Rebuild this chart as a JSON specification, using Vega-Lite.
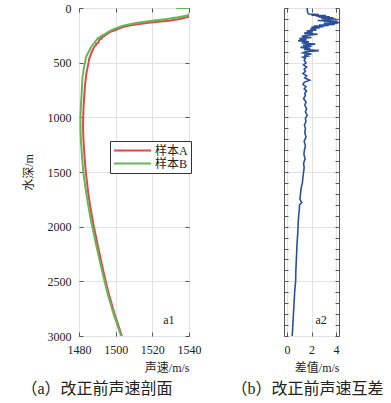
{
  "$schema": "https://vega.github.io/schema/vega-lite/v6.json",
  "padding": {"left": 20, "top": 1, "right": 5, "bottom": 5},
  "background": "white",
  "bounds": "flush",
  "spacing": 95,
  "config": {
    "view": {"stroke": "#555", "strokeWidth": 1},
    "font": "Liberation Serif",
    "axis": {
      "domain": false,
      "tickColor": "#555",
      "tickSize": -4,
      "labelPadding": 12,
      "labelFont": "Liberation Serif",
      "labelFontSize": 12,
      "labelColor": "#222",
      "labelOverlap": false,
      "labelFlush": false,
      "format": "d",
      "gridColor": "#e2e2e2",
      "titleFont": "Liberation Serif, Noto Sans CJK SC",
      "titleFontSize": 12,
      "titleFontWeight": "normal",
      "titleColor": "#222"
    }
  },
  "datasets": {
    "profile": [
      {"sample": "样本A", "depth": 80, "speed": 1540},
      {"sample": "样本A", "depth": 90, "speed": 1537.5},
      {"sample": "样本A", "depth": 100, "speed": 1535},
      {"sample": "样本A", "depth": 116, "speed": 1529},
      {"sample": "样本A", "depth": 131, "speed": 1520},
      {"sample": "样本A", "depth": 140, "speed": 1516},
      {"sample": "样本A", "depth": 150, "speed": 1511},
      {"sample": "样本A", "depth": 160, "speed": 1507.5},
      {"sample": "样本A", "depth": 170, "speed": 1505},
      {"sample": "样本A", "depth": 185, "speed": 1502},
      {"sample": "样本A", "depth": 201, "speed": 1500},
      {"sample": "样本A", "depth": 215, "speed": 1497.5},
      {"sample": "样本A", "depth": 230, "speed": 1496},
      {"sample": "样本A", "depth": 250, "speed": 1494.2},
      {"sample": "样本A", "depth": 268, "speed": 1492.7},
      {"sample": "样本A", "depth": 280, "speed": 1492.3},
      {"sample": "样本A", "depth": 285, "speed": 1491.2},
      {"sample": "样本A", "depth": 300, "speed": 1491},
      {"sample": "样本A", "depth": 320, "speed": 1490.4},
      {"sample": "样本A", "depth": 325, "speed": 1489.5},
      {"sample": "样本A", "depth": 340, "speed": 1489.2},
      {"sample": "样本A", "depth": 350, "speed": 1488.5},
      {"sample": "样本A", "depth": 360, "speed": 1488.2},
      {"sample": "样本A", "depth": 380, "speed": 1487.6},
      {"sample": "样本A", "depth": 400, "speed": 1487},
      {"sample": "样本A", "depth": 430, "speed": 1486.3},
      {"sample": "样本A", "depth": 467, "speed": 1485.5},
      {"sample": "样本A", "depth": 500, "speed": 1485.2},
      {"sample": "样本A", "depth": 550, "speed": 1484.6},
      {"sample": "样本A", "depth": 600, "speed": 1484},
      {"sample": "样本A", "depth": 650, "speed": 1483.7},
      {"sample": "样本A", "depth": 700, "speed": 1483.3},
      {"sample": "样本A", "depth": 800, "speed": 1482.9},
      {"sample": "样本A", "depth": 900, "speed": 1482.5},
      {"sample": "样本A", "depth": 1000, "speed": 1482.3},
      {"sample": "样本A", "depth": 1100, "speed": 1482.2},
      {"sample": "样本A", "depth": 1200, "speed": 1482.4},
      {"sample": "样本A", "depth": 1300, "speed": 1482.8},
      {"sample": "样本A", "depth": 1400, "speed": 1483.2},
      {"sample": "样本A", "depth": 1500, "speed": 1483.7},
      {"sample": "样本A", "depth": 1600, "speed": 1484.4},
      {"sample": "样本A", "depth": 1700, "speed": 1485.1},
      {"sample": "样本A", "depth": 1800, "speed": 1486},
      {"sample": "样本A", "depth": 1900, "speed": 1487},
      {"sample": "样本A", "depth": 2000, "speed": 1488.1},
      {"sample": "样本A", "depth": 2200, "speed": 1490.6},
      {"sample": "样本A", "depth": 2400, "speed": 1493.2},
      {"sample": "样本A", "depth": 2600, "speed": 1496},
      {"sample": "样本A", "depth": 2800, "speed": 1499.4},
      {"sample": "样本A", "depth": 3000, "speed": 1503.4},
      {"sample": "样本B", "depth": 0, "speed": 1533},
      {"sample": "样本B", "depth": 0.5, "speed": 1541},
      {"sample": "样本B", "depth": 64, "speed": 1540},
      {"sample": "样本B", "depth": 75, "speed": 1537},
      {"sample": "样本B", "depth": 85, "speed": 1534},
      {"sample": "样本B", "depth": 100, "speed": 1528},
      {"sample": "样本B", "depth": 116, "speed": 1520},
      {"sample": "样本B", "depth": 125, "speed": 1516},
      {"sample": "样本B", "depth": 135, "speed": 1512},
      {"sample": "样本B", "depth": 150, "speed": 1507},
      {"sample": "样本B", "depth": 165, "speed": 1503.5},
      {"sample": "样本B", "depth": 186, "speed": 1500},
      {"sample": "样本B", "depth": 200, "speed": 1498},
      {"sample": "样本B", "depth": 220, "speed": 1495.8},
      {"sample": "样本B", "depth": 240, "speed": 1494},
      {"sample": "样本B", "depth": 259, "speed": 1491.8},
      {"sample": "样本B", "depth": 270, "speed": 1491.3},
      {"sample": "样本B", "depth": 275, "speed": 1490.2},
      {"sample": "样本B", "depth": 290, "speed": 1489.8},
      {"sample": "样本B", "depth": 300, "speed": 1489},
      {"sample": "样本B", "depth": 315, "speed": 1488.7},
      {"sample": "样本B", "depth": 330, "speed": 1487.8},
      {"sample": "样本B", "depth": 345, "speed": 1487},
      {"sample": "样本B", "depth": 370, "speed": 1486.2},
      {"sample": "样本B", "depth": 400, "speed": 1485.3},
      {"sample": "样本B", "depth": 430, "speed": 1484.3},
      {"sample": "样本B", "depth": 451, "speed": 1483.8},
      {"sample": "样本B", "depth": 480, "speed": 1483.5},
      {"sample": "样本B", "depth": 520, "speed": 1483},
      {"sample": "样本B", "depth": 560, "speed": 1482.5},
      {"sample": "样本B", "depth": 600, "speed": 1482.3},
      {"sample": "样本B", "depth": 630, "speed": 1481.9},
      {"sample": "样本B", "depth": 700, "speed": 1481.7},
      {"sample": "样本B", "depth": 800, "speed": 1481.4},
      {"sample": "样本B", "depth": 900, "speed": 1481.0},
      {"sample": "样本B", "depth": 1000, "speed": 1480.8},
      {"sample": "样本B", "depth": 1100, "speed": 1480.8},
      {"sample": "样本B", "depth": 1200, "speed": 1481.0},
      {"sample": "样本B", "depth": 1300, "speed": 1481.4},
      {"sample": "样本B", "depth": 1400, "speed": 1481.85},
      {"sample": "样本B", "depth": 1500, "speed": 1482.35},
      {"sample": "样本B", "depth": 1600, "speed": 1483.15},
      {"sample": "样本B", "depth": 1700, "speed": 1484.0},
      {"sample": "样本B", "depth": 1800, "speed": 1485.0},
      {"sample": "样本B", "depth": 1900, "speed": 1486.05},
      {"sample": "样本B", "depth": 2000, "speed": 1487.2},
      {"sample": "样本B", "depth": 2200, "speed": 1489.8},
      {"sample": "样本B", "depth": 2400, "speed": 1492.5},
      {"sample": "样本B", "depth": 2600, "speed": 1495.4},
      {"sample": "样本B", "depth": 2800, "speed": 1498.9},
      {"sample": "样本B", "depth": 3000, "speed": 1503.0}
    ],
    "diff": [
      {"depth": 0, "diff": 1.65}, {"depth": 20, "diff": 1.66}, {"depth": 40, "diff": 1.68}, {"depth": 55, "diff": 1.75},
      {"depth": 60, "diff": 2.6}, {"depth": 65, "diff": 2.0}, {"depth": 70, "diff": 3.2}, {"depth": 75, "diff": 2.4},
      {"depth": 80, "diff": 3.5}, {"depth": 85, "diff": 2.6}, {"depth": 90, "diff": 3.8}, {"depth": 95, "diff": 2.8},
      {"depth": 100, "diff": 4.0}, {"depth": 105, "diff": 2.9}, {"depth": 110, "diff": 3.6}, {"depth": 115, "diff": 2.5},
      {"depth": 120, "diff": 4.1}, {"depth": 125, "diff": 3.0}, {"depth": 130, "diff": 4.3}, {"depth": 135, "diff": 3.4},
      {"depth": 140, "diff": 4.2}, {"depth": 145, "diff": 3.0}, {"depth": 150, "diff": 3.9}, {"depth": 155, "diff": 2.6},
      {"depth": 160, "diff": 3.4}, {"depth": 165, "diff": 2.2}, {"depth": 170, "diff": 3.0}, {"depth": 175, "diff": 2.0},
      {"depth": 180, "diff": 2.7}, {"depth": 190, "diff": 1.9}, {"depth": 200, "diff": 2.4}, {"depth": 210, "diff": 1.6},
      {"depth": 220, "diff": 2.1}, {"depth": 230, "diff": 1.4}, {"depth": 240, "diff": 2.5}, {"depth": 250, "diff": 1.5},
      {"depth": 260, "diff": 1.2}, {"depth": 270, "diff": 2.0}, {"depth": 280, "diff": 1.0}, {"depth": 290, "diff": 1.6},
      {"depth": 300, "diff": 0.9}, {"depth": 310, "diff": 1.8}, {"depth": 320, "diff": 1.2}, {"depth": 330, "diff": 2.3},
      {"depth": 340, "diff": 1.3}, {"depth": 350, "diff": 2.0}, {"depth": 360, "diff": 1.1}, {"depth": 370, "diff": 1.9},
      {"depth": 380, "diff": 1.4}, {"depth": 390, "diff": 2.6}, {"depth": 400, "diff": 1.5}, {"depth": 410, "diff": 1.3},
      {"depth": 420, "diff": 2.0}, {"depth": 430, "diff": 1.4}, {"depth": 440, "diff": 1.7}, {"depth": 450, "diff": 1.3},
      {"depth": 460, "diff": 1.5}, {"depth": 480, "diff": 1.4}, {"depth": 500, "diff": 1.55}, {"depth": 520, "diff": 1.35},
      {"depth": 540, "diff": 1.6}, {"depth": 560, "diff": 1.4}, {"depth": 580, "diff": 1.5}, {"depth": 600, "diff": 1.3},
      {"depth": 620, "diff": 1.6}, {"depth": 640, "diff": 1.45}, {"depth": 660, "diff": 1.85}, {"depth": 680, "diff": 1.4},
      {"depth": 700, "diff": 1.3}, {"depth": 720, "diff": 1.55}, {"depth": 740, "diff": 1.4}, {"depth": 760, "diff": 1.6},
      {"depth": 780, "diff": 1.45}, {"depth": 800, "diff": 1.5}, {"depth": 830, "diff": 1.35}, {"depth": 860, "diff": 1.55},
      {"depth": 890, "diff": 1.45}, {"depth": 920, "diff": 1.6}, {"depth": 950, "diff": 1.5}, {"depth": 980, "diff": 1.65},
      {"depth": 1010, "diff": 1.5}, {"depth": 1040, "diff": 1.55}, {"depth": 1070, "diff": 1.42}, {"depth": 1100, "diff": 1.5},
      {"depth": 1140, "diff": 1.45}, {"depth": 1180, "diff": 1.55}, {"depth": 1220, "diff": 1.4}, {"depth": 1260, "diff": 1.5},
      {"depth": 1300, "diff": 1.42}, {"depth": 1340, "diff": 1.38}, {"depth": 1380, "diff": 1.48}, {"depth": 1420, "diff": 1.35},
      {"depth": 1460, "diff": 1.4}, {"depth": 1500, "diff": 1.35}, {"depth": 1550, "diff": 1.3}, {"depth": 1600, "diff": 1.25},
      {"depth": 1650, "diff": 1.15}, {"depth": 1700, "diff": 1.1}, {"depth": 1750, "diff": 1.05}, {"depth": 1780, "diff": 1.2},
      {"depth": 1800, "diff": 1.02}, {"depth": 1850, "diff": 1.0}, {"depth": 1900, "diff": 0.95}, {"depth": 1950, "diff": 0.92},
      {"depth": 2000, "diff": 0.9}, {"depth": 2050, "diff": 0.88}, {"depth": 2100, "diff": 0.85}, {"depth": 2150, "diff": 0.82},
      {"depth": 2200, "diff": 0.8}, {"depth": 2250, "diff": 0.78}, {"depth": 2300, "diff": 0.76}, {"depth": 2350, "diff": 0.74},
      {"depth": 2400, "diff": 0.72}, {"depth": 2450, "diff": 0.71}, {"depth": 2500, "diff": 0.7}, {"depth": 2550, "diff": 0.66},
      {"depth": 2600, "diff": 0.62}, {"depth": 2650, "diff": 0.6}, {"depth": 2700, "diff": 0.57}, {"depth": 2750, "diff": 0.55},
      {"depth": 2800, "diff": 0.52}, {"depth": 2850, "diff": 0.5}, {"depth": 2900, "diff": 0.47}, {"depth": 2950, "diff": 0.45},
      {"depth": 3000, "diff": 0.42}
    ]
  },
  "hconcat": [
    {
      "width": 110,
      "height": 328,
      "title": {"text": "（a）改正前声速剖面", "orient": "bottom", "anchor": "middle", "frame": "group", "dx": -37, "offset": 8, "fontSize": 16, "fontWeight": "normal", "color": "#222", "font": "Liberation Serif, Noto Sans CJK SC"},
      "layer": [
        {
          "data": {"name": "profile"},
          "mark": {"type": "line", "strokeWidth": 2, "clip": true},
          "encoding": {
            "x": {"field": "speed", "type": "quantitative", "scale": {"domain": [1480, 1540], "nice": false, "zero": false},
                  "axis": {"orient": "bottom", "values": [1480, 1500, 1520, 1540], "title": "声速/m/s", "titleAnchor": "end", "titlePadding": 7, "grid": true}},
            "y": {"field": "depth", "type": "quantitative", "scale": {"domain": [0, 3000], "reverse": true, "nice": false},
                  "axis": {"orient": "left", "values": [0, 500, 1000, 1500, 2000, 2500, 3000], "title": "水深/m", "titlePadding": 12, "grid": true}},
            "color": {"field": "sample", "type": "nominal", "scale": {"domain": ["样本A", "样本B"], "range": ["#e0474a", "#62b856"]},
                      "legend": {"orient": "none", "legendX": 31, "legendY": 133, "title": null, "symbolType": "stroke", "symbolSize": 1369, "symbolStrokeWidth": 2, "clipHeight": 13, "labelFontSize": 12, "labelColor": "#222", "labelOffset": 3, "padding": 3, "rowPadding": 0, "strokeColor": "#333", "fillColor": "white", "labelFont": "Liberation Serif, Noto Sans CJK SC"}},
            "order": {"field": "depth", "type": "quantitative"}
          }
        },
        {
          "data": {"name": "profile"},
          "mark": {"type": "line", "opacity": 0},
          "encoding": {
            "x": {"field": "speed", "type": "quantitative", "axis": {"orient": "top", "values": [1480, 1500, 1520, 1540], "labels": false, "title": null, "grid": false}},
            "y": {"field": "depth", "type": "quantitative", "axis": {"orient": "right", "values": [0, 500, 1000, 1500, 2000, 2500, 3000], "labels": false, "title": null, "grid": false}},
            "detail": {"field": "sample"},
            "order": {"field": "depth", "type": "quantitative"}
          }
        },
        {
          "data": {"values": [{"label": "a1"}]},
          "mark": {"type": "text", "fontSize": 12, "color": "#222", "align": "center", "baseline": "middle", "font": "Liberation Serif"},
          "encoding": {
            "x": {"datum": 1529, "type": "quantitative", "axis": null},
            "y": {"datum": 2855, "type": "quantitative", "axis": null},
            "text": {"field": "label"}
          }
        }
      ],
      "resolve": {"axis": {"x": "independent", "y": "independent"}}
    },
    {
      "width": 55,
      "height": 328,
      "title": {"text": "（b）改正前声速互差", "orient": "bottom", "anchor": "middle", "frame": "group", "dx": -4, "offset": 8, "fontSize": 16, "fontWeight": "normal", "color": "#222", "font": "Liberation Serif, Noto Sans CJK SC"},
      "layer": [
        {
          "data": {"name": "diff"},
          "mark": {"type": "line", "strokeWidth": 1.6, "color": "#2c4f9c", "clip": true},
          "encoding": {
            "x": {"field": "diff", "type": "quantitative", "scale": {"domain": [-0.25, 4.25], "nice": false, "zero": false},
                  "axis": {"orient": "bottom", "values": [0, 2, 4], "title": "差值/m/s", "titleAnchor": "end", "titlePadding": 7, "grid": true}},
            "y": {"field": "depth", "type": "quantitative", "scale": {"domain": [0, 3000], "reverse": true, "nice": false},
                  "axis": {"orient": "left", "values": [0, 100, 200, 300, 400, 500, 600, 700, 800, 900, 1000, 1100, 1200, 1300, 1400, 1500, 1600, 1700, 1800, 1900, 2000, 2100, 2200, 2300, 2400, 2500, 2600, 2700, 2800, 2900, 3000],
                           "labels": false, "title": null, "grid": true,
                           "gridOpacity": {"condition": {"test": "datum.value % 500 === 0", "value": 1}, "value": 0}}},
            "order": {"field": "depth", "type": "quantitative"}
          }
        },
        {
          "data": {"name": "diff"},
          "mark": {"type": "line", "opacity": 0},
          "encoding": {
            "x": {"field": "diff", "type": "quantitative", "axis": {"orient": "top", "values": [0, 2, 4], "labels": false, "title": null, "grid": false}},
            "y": {"field": "depth", "type": "quantitative", "axis": {"orient": "right", "values": [0, 100, 200, 300, 400, 500, 600, 700, 800, 900, 1000, 1100, 1200, 1300, 1400, 1500, 1600, 1700, 1800, 1900, 2000, 2100, 2200, 2300, 2400, 2500, 2600, 2700, 2800, 2900, 3000], "labels": false, "title": null, "grid": false}},
            "order": {"field": "depth", "type": "quantitative"}
          }
        },
        {
          "data": {"values": [{"label": "a2"}]},
          "mark": {"type": "text", "fontSize": 12, "color": "#222", "align": "center", "baseline": "middle", "font": "Liberation Serif"},
          "encoding": {
            "x": {"datum": 2.78, "type": "quantitative", "axis": null},
            "y": {"datum": 2855, "type": "quantitative", "axis": null},
            "text": {"field": "label"}
          }
        }
      ],
      "resolve": {"axis": {"x": "independent", "y": "independent"}}
    }
  ]
}
